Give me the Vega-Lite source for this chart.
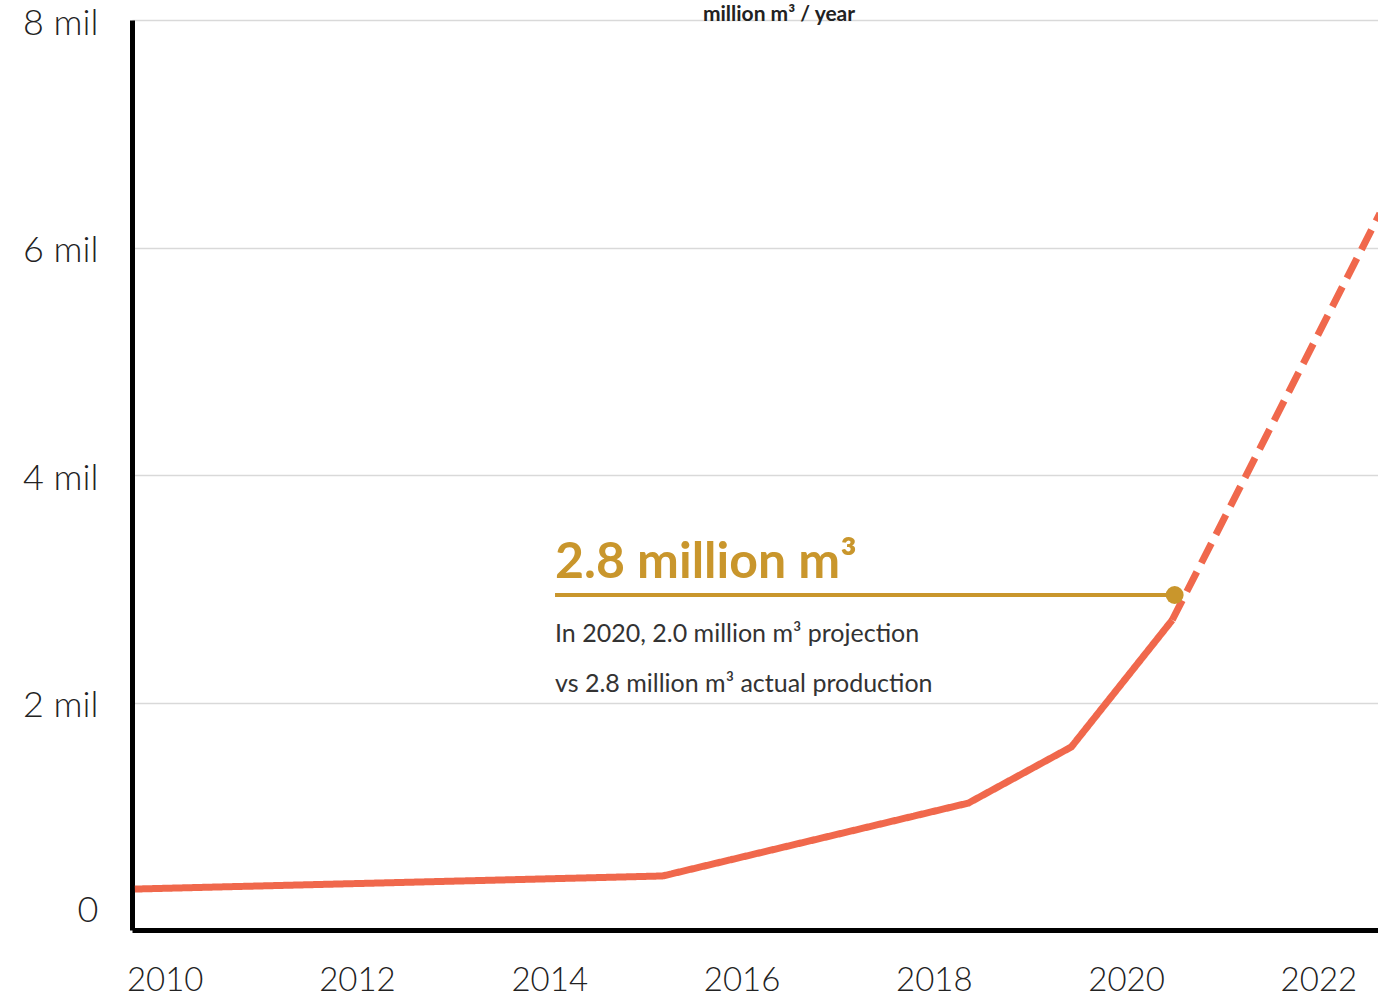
{
  "$schema": "https://vega.github.io/schema/vega-lite/v6.json",
  "width": 1246,
  "height": 910,
  "autosize": {"type": "none"},
  "padding": {"left": 132, "top": 20, "right": 0, "bottom": 69},
  "background": "white",
  "config": {"view": {"stroke": null}, "font": "Lato"},
  "title": {
    "text": "million m³ / year",
    "anchor": "middle",
    "frame": "group",
    "fontSize": 21,
    "fontWeight": "bold",
    "color": "#222222",
    "baseline": "alphabetic",
    "offset": 0,
    "dy": 37,
    "dx": 24
  },
  "datasets": {
    "series": [
      {"year": 2009.69, "value": 0.36, "segment": "actual"},
      {"year": 2015.18, "value": 0.475, "segment": "actual"},
      {"year": 2018.36, "value": 1.116, "segment": "actual"},
      {"year": 2019.43, "value": 1.609, "segment": "actual"},
      {"year": 2020.48, "value": 2.725, "segment": "actual"},
      {"year": 2020.48, "value": 2.725, "segment": "projected"},
      {"year": 2022.64, "value": 6.3, "segment": "projected"}
    ],
    "rule": [{"year": 2014.06, "yearEnd": 2020.505, "value": 2.945}],
    "dot": [{"year": 2020.505, "value": 2.945}],
    "annotation": [
      {"kind": "headline", "year": 2014.06, "value": 2.945, "label": "2.8 million m³"},
      {"kind": "line1", "year": 2014.06, "value": 2.945, "label": "In 2020, 2.0 million m³ projection"},
      {"kind": "line2", "year": 2014.06, "value": 2.945, "label": "vs 2.8 million m³ actual production"}
    ]
  },
  "layer": [
    {
      "data": {"name": "series"},
      "mark": {"type": "line", "strokeWidth": 7, "strokeCap": "butt", "strokeJoin": "round", "color": "#F0684C"},
      "encoding": {
        "x": {
          "field": "year", "type": "quantitative",
          "scale": {"domain": [2009.66, 2022.62], "nice": false, "zero": false},
          "axis": {
            "values": [2010, 2012, 2014, 2016, 2018, 2020, 2022],
            "format": "d",
            "title": null,
            "grid": false,
            "ticks": false,
            "domainColor": "#000000",
            "domainWidth": 5,
            "labelFontSize": 33,
            "labelFontWeight": 300,
            "labelColor": "#222222",
            "labelPadding": 34,
            "labelFlush": false,
            "labelOverlap": false
          }
        },
        "y": {
          "field": "value", "type": "quantitative",
          "scale": {"domain": [0, 8], "nice": false, "zero": false},
          "axis": {
            "values": [0, 2, 4, 6, 8],
            "labelExpr": "datum.value === 0 ? '0' : datum.value + ' mil'",
            "labelOffset": {"condition": {"test": "datum.value === 0", "value": -20}, "value": 3},
            "title": null,
            "grid": true,
            "gridColor": "#d9d9d9",
            "gridWidth": 1.5,
            "gridOpacity": {"condition": {"test": "datum.value === 0", "value": 0}, "value": 1},
            "ticks": false,
            "domainColor": "#000000",
            "domainWidth": 5,
            "labelFontSize": 36,
            "labelFontWeight": 300,
            "labelColor": "#222222",
            "labelPadding": 34,
            "labelFlush": false,
            "labelOverlap": false
          }
        },
        "strokeDash": {
          "field": "segment", "type": "nominal",
          "scale": {"domain": ["actual", "projected"], "range": [[1, 0], [22, 10]]},
          "legend": null
        }
      }
    },
    {
      "data": {"name": "rule"},
      "mark": {"type": "rule", "color": "#C9962C", "strokeWidth": 4},
      "encoding": {
        "x": {"field": "year", "type": "quantitative"},
        "x2": {"field": "yearEnd"},
        "y": {"field": "value", "type": "quantitative"}
      }
    },
    {
      "data": {"name": "dot"},
      "mark": {"type": "circle", "color": "#C9962C", "opacity": 1, "size": 320},
      "encoding": {
        "x": {"field": "year", "type": "quantitative"},
        "y": {"field": "value", "type": "quantitative"}
      }
    },
    {
      "data": {"name": "annotation"},
      "transform": [{"filter": "datum.kind === 'headline'"}],
      "mark": {"type": "text", "align": "left", "baseline": "alphabetic", "dy": -17, "fontSize": 50, "fontWeight": "bold", "letterSpacing": 2, "color": "#C9962C"},
      "encoding": {
        "x": {"field": "year", "type": "quantitative"},
        "y": {"field": "value", "type": "quantitative"},
        "text": {"field": "label"}
      }
    },
    {
      "data": {"name": "annotation"},
      "transform": [{"filter": "datum.kind === 'line1'"}],
      "mark": {"type": "text", "align": "left", "baseline": "alphabetic", "dy": 47, "fontSize": 25, "letterSpacing": 1, "color": "#333333"},
      "encoding": {
        "x": {"field": "year", "type": "quantitative"},
        "y": {"field": "value", "type": "quantitative"},
        "text": {"field": "label"}
      }
    },
    {
      "data": {"name": "annotation"},
      "transform": [{"filter": "datum.kind === 'line2'"}],
      "mark": {"type": "text", "align": "left", "baseline": "alphabetic", "dy": 97, "fontSize": 25, "letterSpacing": 1, "color": "#333333"},
      "encoding": {
        "x": {"field": "year", "type": "quantitative"},
        "y": {"field": "value", "type": "quantitative"},
        "text": {"field": "label"}
      }
    }
  ]
}
